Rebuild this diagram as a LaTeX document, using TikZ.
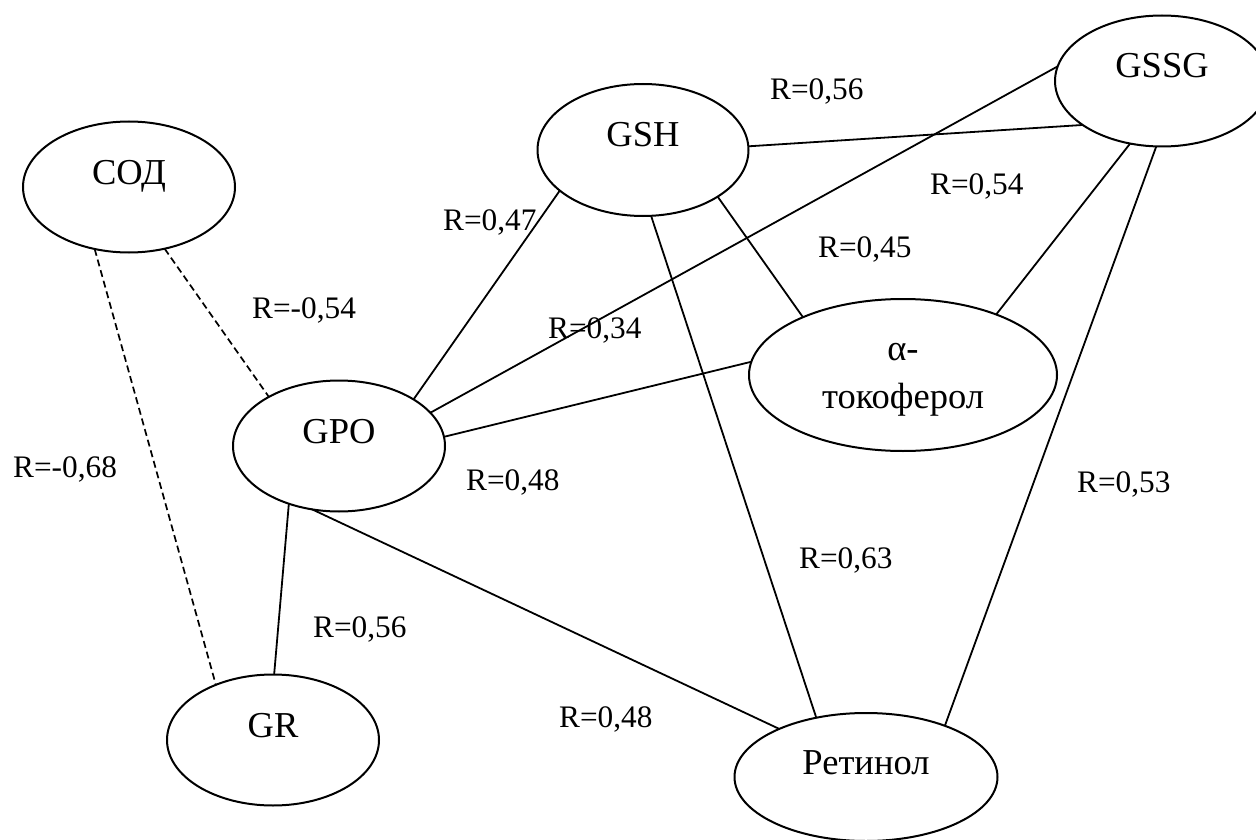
\documentclass[tikz,border=0pt]{standalone}
\usepackage{fontspec}
\setmainfont{Liberation Serif}
\usetikzlibrary{shapes.geometric}
\begin{document}
\begin{tikzpicture}[x=1pt,y=-1pt,
  ell/.style={ellipse, draw, line width=2pt, inner sep=0pt, outer sep=0pt,
    font=\fontsize{36.5}{48}\selectfont, text height=0pt, text depth=6pt},
  conn/.style={line width=1.8pt},
  dconn/.style={line width=1.7pt, dash pattern=on 7pt off 4pt},
  lab/.style={font=\fontsize{31.3}{36}\selectfont, inner sep=0pt, anchor=base west}]
\useasboundingbox (0,0) rectangle (1256,840);
% nodes
\node[ell, minimum width=212pt, minimum height=131pt] (SOD) at (129,187) {СОД};
\node[ell, minimum width=212pt, minimum height=131pt] (GPO) at (339,446) {GPO};
\node[ell, minimum width=211pt, minimum height=132pt] (GSH) at (643,150) {GSH};
\node[ell, minimum width=214pt, minimum height=131pt] (GSSG) at (1162,81) {GSSG};
\node[ell, minimum width=308pt, minimum height=152pt, text height=, text depth=] (toc) at (903,375)
  {\begin{tabular}{@{}c@{}}α-\\токоферол\end{tabular}};
\node[ell, minimum width=212pt, minimum height=131pt] (GR) at (273,740) {GR};
\node[ell, minimum width=263pt, minimum height=128pt] (Ret) at (866,777) {Ретинол};
% connectors
\draw[dconn] (SOD.300) -- (GPO.145);
\draw[dconn] (SOD.241) -- (GR.136);
\draw[conn] (GPO.229) -- (GR.89);
\draw[conn] (GPO.247) -- (Ret.151);
\draw[conn] (GPO.32) -- (GSH.206);
\draw[conn] (GPO.20) -- (GSSG.172);
\draw[conn] (GPO.5) -- (toc.175);
\draw[conn] (GSH.2) -- (GSSG.209);
\draw[conn] (GSH.328) -- (toc.150);
\draw[conn] (GSH.277) -- (Ret.130);
\draw[conn] (GSSG.243) -- (toc.33);
\draw[conn] (GSSG.265) -- (Ret.33);
% labels
\node[lab] (l1) at (252,318) {R=-0,54};
\node[lab] (l2) at (13,477) {R=-0,68};
\node[lab] (l3) at (443,230) {R=0,47};
\node[lab] (l4) at (770,100) {R=0,56};
\node[lab] (l5) at (818,257) {R=0,45};
\node[lab] (l6) at (548,338) {R=0,34};
\node[lab] (l7) at (930,194) {R=0,54};
\node[lab] (l8) at (466,490) {R=0,48};
\node[lab] (l9) at (1077,492) {R=0,53};
\node[lab] (l10) at (799,568) {R=0,63};
\node[lab] (l11) at (313,637) {R=0,56};
\node[lab] (l12) at (559,727) {R=0,48};
\end{tikzpicture}
\end{document}
